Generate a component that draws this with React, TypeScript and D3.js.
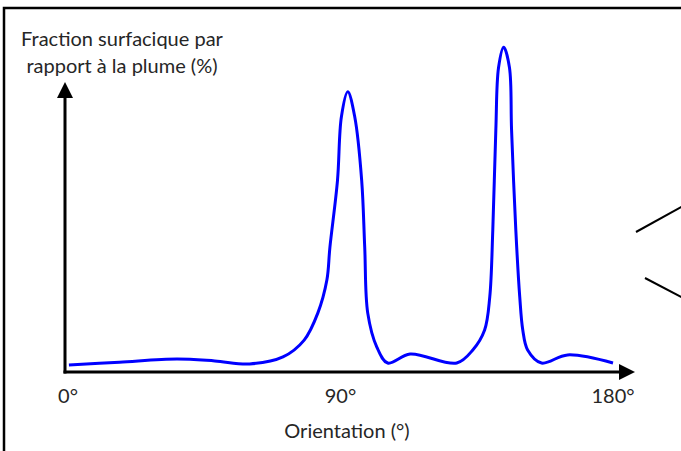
import React, { useEffect, useRef } from 'react';
import * as d3 from 'd3';

// orientation (deg) and surface fraction
const orientation = [0.3, 17, 36, 48.5, 60, 71, 78, 82.5, 85.5, 86.5, 89, 90.3, 92.4, 94.7, 97, 98, 99, 102, 105.6, 113, 128.4, 133.7, 137.6, 139.3, 140.3, 141.3, 142.2, 143.9, 145.8, 146.5, 147.9, 149.2, 150.2, 151.8, 156.4, 165, 180];
const fraction = [2.4, 3.4, 4.5, 3.8, 2.8, 5.2, 11, 20.3, 31.7, 43, 66, 88, 96.6, 88, 66, 43, 20.3, 8.6, 3.1, 6.2, 3.1, 7.6, 14.5, 25.9, 49, 83.4, 105, 112, 105, 83.4, 49, 25.9, 14.5, 7.6, 3.1, 5.9, 3.1];

const tickValues = [0, 90, 180];
const tickLabels = ['0°', '90°', '180°'];
const yTitle = ['Fraction surfacique par', 'rapport à la plume (%)'];
const xTitle = 'Orientation (°)';

const App: React.FC = () => {
  const svgRef = useRef<SVGSVGElement>(null);

  useEffect(() => {
    if (!svgRef.current) return;
    const width = 681;
    const height = 451;
    const font = 'Lato, "Open Sans", sans-serif';
    const textColor = '#262626';

    const svg = d3.select(svgRef.current);
    svg.selectAll('*').remove();
    svg.attr('width', width).attr('height', height);

    const x = d3.scaleLinear().domain([0, 180]).range([68, 613]);
    const y = d3.scaleLinear().domain([0, 100]).range([372, 82]);
    const originX = 65;
    const axisY = y(0);

    // frame (only top and left edges are visible)
    svg.append('path')
      .attr('d', `M4,${height} L4,8 L${width},8`)
      .attr('fill', 'none')
      .attr('stroke', '#000')
      .attr('stroke-width', 2.5);

    // stray connector lines on the right edge
    svg.append('line')
      .attr('x1', 636).attr('y1', 232).attr('x2', 683).attr('y2', 206)
      .attr('stroke', '#000').attr('stroke-width', 2);
    svg.append('line')
      .attr('x1', 645).attr('y1', 278).attr('x2', 683).attr('y2', 298)
      .attr('stroke', '#000').attr('stroke-width', 2);

    // axes with arrows
    svg.append('line')
      .attr('x1', originX).attr('y1', axisY + 1.5)
      .attr('x2', originX).attr('y2', 96)
      .attr('stroke', '#000').attr('stroke-width', 3);
    svg.append('path')
      .attr('d', `M${originX},82 L${originX - 8},98 L${originX + 8},98 Z`)
      .attr('fill', '#000');

    svg.append('line')
      .attr('x1', originX - 1.5).attr('y1', axisY)
      .attr('x2', 621).attr('y2', axisY)
      .attr('stroke', '#000').attr('stroke-width', 3);
    svg.append('path')
      .attr('d', `M635,${axisY} L619,${axisY - 8} L619,${axisY + 8} Z`)
      .attr('fill', '#000');

    // curve
    const points = orientation.map((o, i) => [o, fraction[i]] as [number, number]);
    const line = d3.line<[number, number]>()
      .x(d => x(d[0]))
      .y(d => y(d[1]))
      .curve(d3.curveCatmullRom.alpha(0.5));

    svg.append('path')
      .datum(points)
      .attr('d', line)
      .attr('fill', 'none')
      .attr('stroke', '#0000ff')
      .attr('stroke-width', 3)
      .attr('stroke-linejoin', 'round');

    // tick labels
    svg.selectAll('.tick-label')
      .data(tickValues)
      .join('text')
      .attr('class', 'tick-label')
      .attr('x', d => x(d))
      .attr('y', 403)
      .attr('text-anchor', 'middle')
      .style('font-family', font)
      .style('font-size', '20px')
      .style('fill', textColor)
      .text((d, i) => tickLabels[i]);

    // titles
    svg.append('text')
      .attr('x', 347)
      .attr('y', 438)
      .attr('text-anchor', 'middle')
      .style('font-family', font)
      .style('font-size', '20px')
      .style('fill', textColor)
      .text(xTitle);

    svg.selectAll('.y-title')
      .data(yTitle)
      .join('text')
      .attr('class', 'y-title')
      .attr('x', 122)
      .attr('y', (d, i) => 46 + i * 27)
      .attr('text-anchor', 'middle')
      .style('font-family', font)
      .style('font-size', '20px')
      .style('fill', textColor)
      .text(d => d);
  }, []);

  return (
    <div style={{ position: 'absolute', left: 0, top: 0, background: '#fff' }}>
      <svg ref={svgRef} style={{ display: 'block' }} />
    </div>
  );
};

export default App;
